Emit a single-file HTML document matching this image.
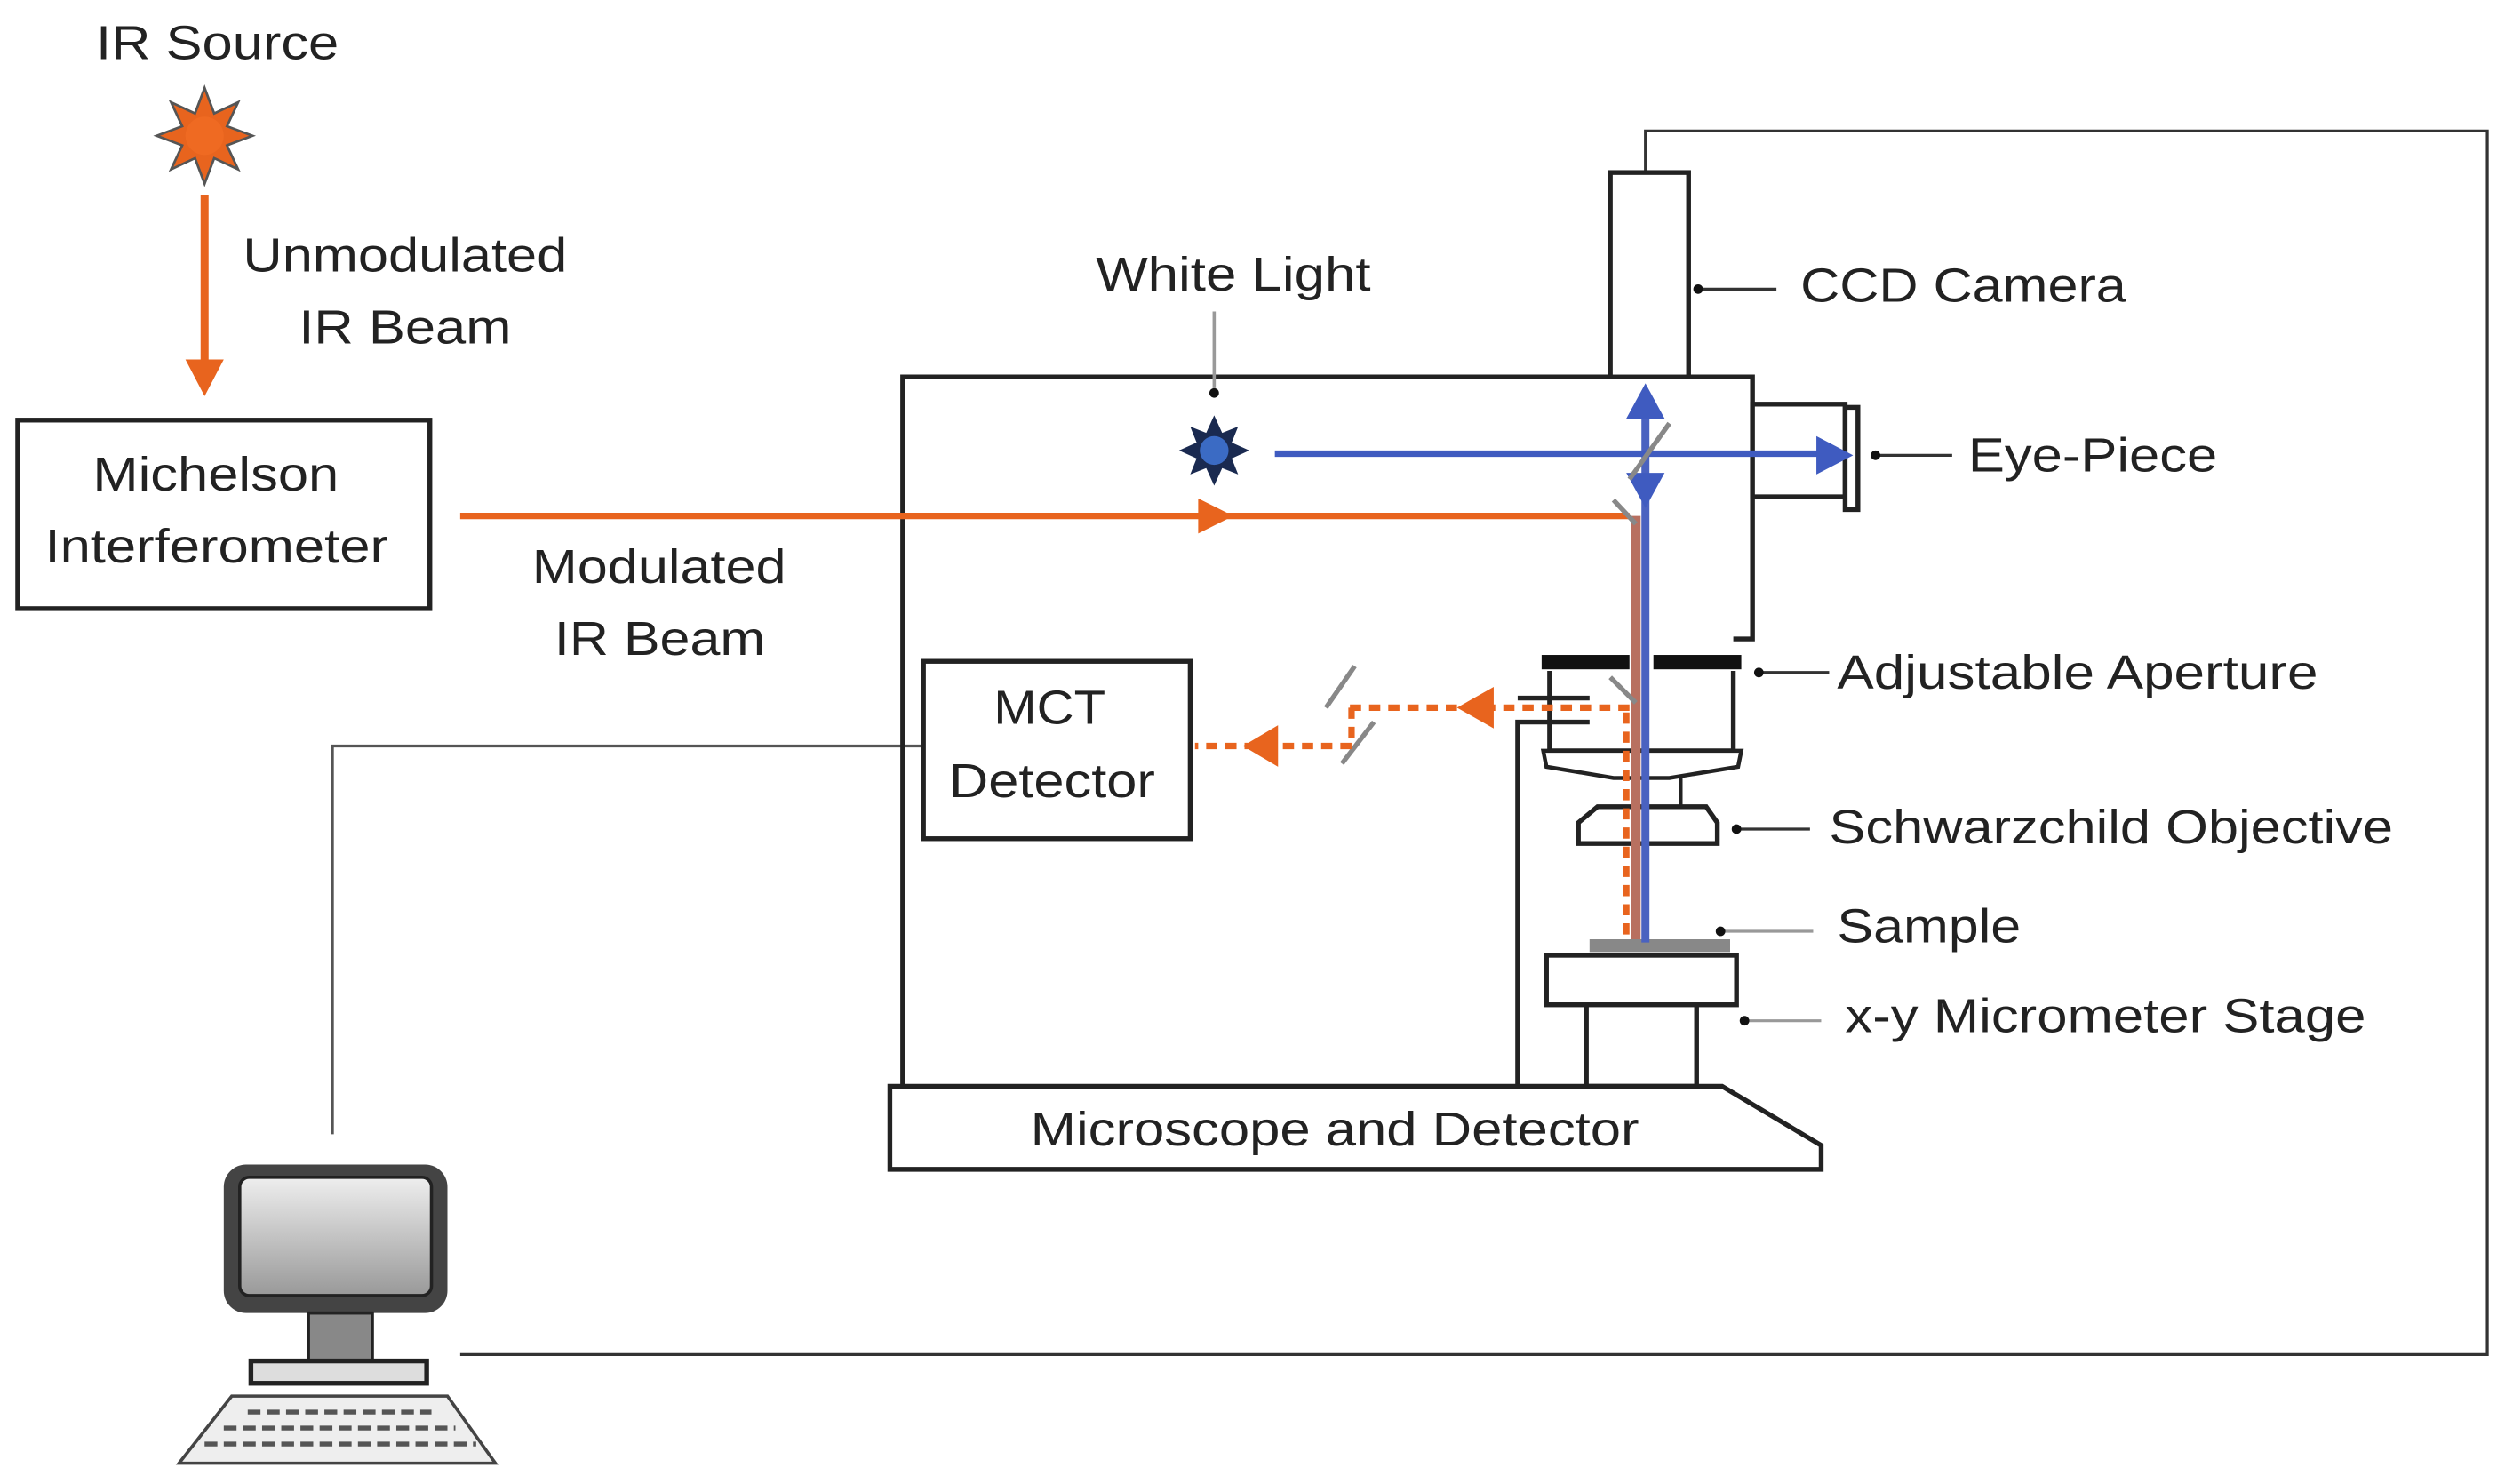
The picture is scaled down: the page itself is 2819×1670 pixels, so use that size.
<!DOCTYPE html>
<html><head><meta charset="utf-8"><style>
html,body{margin:0;padding:0;background:#fff;}
svg{display:block;}
text{font-family:"Liberation Sans",sans-serif;font-size:30px;fill:#222;}
</style></head><body>
<svg width="2819" height="1670" viewBox="0 0 1568 929" xmlns="http://www.w3.org/2000/svg">
<defs>
<linearGradient id="mg" x1="0" y1="0" x2="0" y2="1"><stop offset="0" stop-color="#eee"/><stop offset="1" stop-color="#999"/></linearGradient>
</defs>
<!-- IR source -->
<text x="60" y="37" textLength="152" lengthAdjust="spacingAndGlyphs">IR Source</text>
<g transform="translate(128,85)">
<polygon points="0,-30 6,-14 21,-21 14,-6 30,0 14,6 21,21 6,14 0,30 -6,14 -21,21 -14,6 -30,0 -14,-6 -21,-21 -6,-14" fill="#e8641e" stroke="#555" stroke-width="1.5"/>
<circle r="12" fill="#ef6a22"/>
</g>
<line x1="128" y1="122" x2="128" y2="230" stroke="#e8641e" stroke-width="5"/>
<polygon points="116,225 140,225 128,248" fill="#e8641e"/>
<text x="152" y="170" textLength="203" lengthAdjust="spacingAndGlyphs">Unmodulated</text>
<text x="187" y="215" textLength="133" lengthAdjust="spacingAndGlyphs">IR Beam</text>
<!-- Michelson -->
<rect x="11" y="263" width="258" height="118" fill="none" stroke="#222" stroke-width="3"/>
<text x="58" y="307" textLength="154" lengthAdjust="spacingAndGlyphs">Michelson</text>
<text x="28" y="352" textLength="215" lengthAdjust="spacingAndGlyphs">Interferometer</text>
<text x="333" y="365" textLength="159" lengthAdjust="spacingAndGlyphs">Modulated</text>
<text x="347" y="410" textLength="132" lengthAdjust="spacingAndGlyphs">IR Beam</text>
<!-- outer cable -->
<polyline points="1030,108 1030,82 1557,82 1557,848 288,848" fill="none" stroke="#333" stroke-width="1.8"/>
<polyline points="578,467 208,467 208,710" fill="none" stroke="#555" stroke-width="1.8"/>
<!-- main microscope body -->
<polyline points="565,680 565,236 1097,236 1097,400 1085,400" fill="none" stroke="#222" stroke-width="3"/>
<rect x="1008" y="108" width="49" height="128" fill="#fff" stroke="#222" stroke-width="3"/>
<rect x="1097" y="253" width="58" height="58" fill="#fff" stroke="#222" stroke-width="3"/>
<rect x="1155" y="255" width="8" height="64" fill="#fff" stroke="#222" stroke-width="3"/>
<!-- aperture housing -->
<rect x="965" y="410" width="55" height="9" fill="#111"/>
<rect x="1035" y="410" width="55" height="9" fill="#111"/>
<polyline points="970,420 970,470 1085,470 1085,420" fill="none" stroke="#222" stroke-width="3"/>
<path d="M966,470 L1090,470 L1088,480 L1045,487 L1010,487 L968,480 Z" fill="#fff" stroke="#222" stroke-width="2.5"/>
<line x1="1052" y1="487" x2="1052" y2="505" stroke="#222" stroke-width="2.5"/>
<polygon points="1000,505 1068,505 1075,515 1075,528 988,528 988,515" fill="#fff" stroke="#222" stroke-width="3"/>
<!-- column -->
<polyline points="950,680 950,452 995,452" fill="none" stroke="#222" stroke-width="3"/>
<line x1="950" y1="437" x2="995" y2="437" stroke="#222" stroke-width="3"/>
<!-- sample / stage -->
<rect x="995" y="588" width="88" height="8" fill="#888"/>
<rect x="968" y="598" width="119" height="31" fill="#fff" stroke="#222" stroke-width="3"/>
<polyline points="993,629 993,680 1062,680 1062,629" fill="none" stroke="#222" stroke-width="3"/>
<!-- base -->
<polygon points="557,680 1078,680 1140,717 1140,732 557,732" fill="#fff" stroke="#222" stroke-width="3"/>
<text x="645" y="717" textLength="381" lengthAdjust="spacingAndGlyphs">Microscope and Detector</text>
<!-- white light -->
<text x="686" y="182" textLength="172" lengthAdjust="spacingAndGlyphs">White Light</text>
<line x1="760" y1="195" x2="760" y2="243" stroke="#999" stroke-width="2"/>
<circle cx="760" cy="246" r="3" fill="#111"/>
<g transform="translate(760,282)">
<polygon points="0,-22 5,-11 15,-15 11,-5 22,0 11,5 15,15 5,11 0,22 -5,11 -15,15 -11,5 -22,0 -11,-5 -15,-15 -5,-11" fill="#1a2a50"/>
<circle r="9" fill="#3b6bc4"/>
</g>
<!-- IR beam modulated -->
<line x1="288" y1="323" x2="1020" y2="323" stroke="#e8641e" stroke-width="4"/>
<polygon points="750,312 772,323 750,334" fill="#e8641e"/>
<!-- vertical beams -->
<line x1="1030" y1="250" x2="1030" y2="590" stroke="#4a62c0" stroke-width="5"/>
<line x1="1024" y1="323" x2="1024" y2="588" stroke="#b87060" stroke-width="6"/>
<line x1="798" y1="284" x2="1145" y2="284" stroke="#3f5bc0" stroke-width="4"/>
<polygon points="1137,273 1160,285 1137,297" fill="#3f5bc0"/>
<polygon points="1030,240 1018,262 1042,262" fill="#3f5bc0"/>
<polygon points="1030,318 1018,296 1042,296" fill="#3f5bc0"/>
<!-- mirrors -->
<line x1="1020" y1="300" x2="1045" y2="265" stroke="#888" stroke-width="3"/>
<line x1="1010" y1="313" x2="1024" y2="328" stroke="#888" stroke-width="3"/>
<line x1="1008" y1="424" x2="1024" y2="440" stroke="#888" stroke-width="3"/>
<line x1="830" y1="443" x2="848" y2="417" stroke="#888" stroke-width="3"/>
<line x1="840" y1="478" x2="860" y2="452" stroke="#888" stroke-width="3"/>
<!-- dotted return beams -->
<g stroke="#e8641e" stroke-width="4" stroke-dasharray="7,5" fill="none">
<line x1="1020" y1="443" x2="845" y2="443"/>
<line x1="1018" y1="446" x2="1018" y2="588"/>
<line x1="846" y1="443" x2="846" y2="467"/>
<line x1="846" y1="467" x2="748" y2="467"/>
</g>
<polygon points="935,430 912,443 935,456" fill="#e8641e"/>
<polygon points="800,454 778,467 800,480" fill="#e8641e"/>
<!-- MCT -->
<rect x="578" y="414" width="167" height="111" fill="#fff" stroke="#222" stroke-width="3"/>
<text x="622" y="453" textLength="70" lengthAdjust="spacingAndGlyphs">MCT</text>
<text x="594" y="499" textLength="129" lengthAdjust="spacingAndGlyphs">Detector</text>
<!-- label leaders -->
<g stroke="#333" stroke-width="1.8">
<line x1="1062" y1="181" x2="1112" y2="181"/>
<line x1="1172" y1="285" x2="1222" y2="285"/>
<line x1="1100" y1="421" x2="1145" y2="421"/>
<line x1="1085" y1="519" x2="1133" y2="519"/>
<line x1="1075" y1="583" x2="1135" y2="583" stroke="#999"/>
<line x1="1090" y1="639" x2="1140" y2="639" stroke="#999"/>
</g>
<g fill="#111">
<circle cx="1063" cy="181" r="3"/><circle cx="1174" cy="285" r="3"/><circle cx="1101" cy="421" r="3"/>
<circle cx="1087" cy="519" r="3"/><circle cx="1077" cy="583" r="3"/><circle cx="1092" cy="639" r="3"/>
</g>
<text x="1127" y="189" textLength="204" lengthAdjust="spacingAndGlyphs">CCD Camera</text>
<text x="1232" y="295" textLength="156" lengthAdjust="spacingAndGlyphs">Eye-Piece</text>
<text x="1150" y="431" textLength="301" lengthAdjust="spacingAndGlyphs">Adjustable Aperture</text>
<text x="1145" y="528" textLength="353" lengthAdjust="spacingAndGlyphs">Schwarzchild Objective</text>
<text x="1150" y="590" textLength="115" lengthAdjust="spacingAndGlyphs">Sample</text>
<text x="1155" y="646" textLength="326" lengthAdjust="spacingAndGlyphs">x-y Micrometer Stage</text>
<!-- computer -->
<rect x="140" y="729" width="140" height="93" rx="14" fill="#444"/>
<rect x="150" y="737" width="120" height="74" rx="6" fill="url(#mg)" stroke="#222" stroke-width="2"/>
<rect x="193" y="822" width="40" height="30" fill="#888" stroke="#222" stroke-width="2"/>
<rect x="157" y="852" width="110" height="14" fill="#ddd" stroke="#222" stroke-width="3"/>
<polygon points="145,874 280,874 310,916 112,916" fill="#eee" stroke="#444" stroke-width="2"/>
<g stroke="#555" stroke-width="3" stroke-dasharray="8,4">
<line x1="155" y1="884" x2="270" y2="884"/>
<line x1="140" y1="894" x2="285" y2="894"/>
<line x1="128" y1="904" x2="298" y2="904"/>
</g>
</svg>
</body></html>
